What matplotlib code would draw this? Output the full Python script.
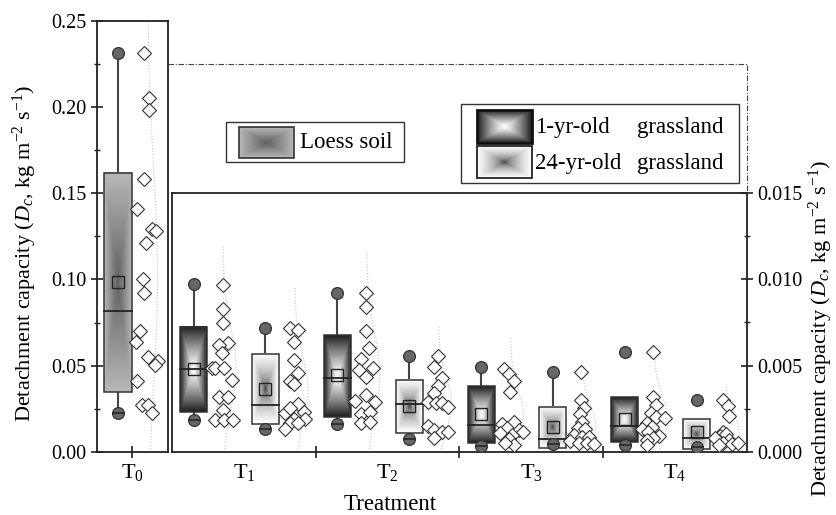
import numpy as np
import matplotlib
matplotlib.use('Agg')
import matplotlib.pyplot as plt
from matplotlib.patches import Rectangle

plt.rcParams['font.family'] = ['Liberation Serif', 'DejaVu Serif']
plt.rcParams['mathtext.fontset'] = 'custom'
plt.rcParams['mathtext.rm'] = 'Liberation Serif'
plt.rcParams['mathtext.it'] = 'Liberation Serif:italic'

# ---- data (kg m-2 s-1) ----
treatments = ['T$_{1}$', 'T$_{2}$', 'T$_{3}$', 'T$_{4}$']

# loess soil, T0 (left axis)
t0_q1, t0_med, t0_q3, t0_mean = 0.0345, 0.0816, 0.1616, 0.0986
t0_min, t0_max = 0.0228, 0.2313
t0_pts = [0.231, 0.205, 0.198, 0.158, 0.141, 0.129, 0.128, 0.121, 0.100, 0.092,
          0.070, 0.0635, 0.055, 0.0527, 0.0503, 0.041, 0.027, 0.027, 0.0224]

# 1-yr-old grassland (right axis)
yr1_q1 = [0.00230, 0.00204, 0.00054, 0.00060]
yr1_med = [0.00480, 0.00428, 0.00156, 0.00150]
yr1_q3 = [0.00725, 0.00677, 0.00382, 0.00316]
yr1_mean = [0.00478, 0.00444, 0.00220, 0.00190]
yr1_min = [0.00185, 0.00160, 0.00035, 0.00040]
yr1_max = [0.00971, 0.00918, 0.00490, 0.00580]
yr1_whi = [0.00971, 0.00918, 0.00490, 0.00316]
yr1_pts = [
    [0.00966, 0.00828, 0.00745, 0.00629, 0.00619, 0.00575, 0.00488, 0.00484,
     0.00484, 0.00417, 0.0032, 0.0032, 0.00243, 0.00185, 0.00185, 0.00185],
    [0.00918, 0.00841, 0.00700, 0.00600, 0.00536, 0.00484, 0.00475, 0.00432,
     0.00330, 0.00297, 0.00291, 0.00220, 0.00230, 0.00166, 0.00175],
    [0.00479, 0.00450, 0.00413, 0.00349, 0.00162, 0.00175, 0.00137, 0.00127,
     0.00117, 0.00108, 0.00098, 0.00073, 0.00040, 0.00050],
    [0.00577, 0.00320, 0.00272, 0.00228, 0.00201, 0.00195, 0.00166, 0.00146,
     0.00131, 0.00118, 0.00093, 0.00079, 0.00069, 0.00040],
]

# 24-yr-old grassland (right axis)
yr24_q1 = [0.00162, 0.00108, 0.00021, 0.00016]
yr24_med = [0.00272, 0.00278, 0.00075, 0.00080]
yr24_q3 = [0.00567, 0.00417, 0.00262, 0.00189]
yr24_mean = [0.00365, 0.00266, 0.00143, 0.00114]
yr24_min = [0.00131, 0.00075, 0.00044, 0.00030]
yr24_max = [0.00716, 0.00557, 0.00465, 0.00300]
yr24_whi = [0.00716, 0.00557, 0.00465, 0.00189]
yr24_pts = [
    [0.00716, 0.00706, 0.00638, 0.00532, 0.00455, 0.00413, 0.00394, 0.00276,
     0.00224, 0.00253, 0.00233, 0.00189, 0.00189, 0.00166, 0.00131, 0.00168],
    [0.00557, 0.00494, 0.00426, 0.00382, 0.00340, 0.00291, 0.00282, 0.00282,
     0.00262, 0.00150, 0.00127, 0.00117, 0.00117, 0.00079],
    [0.00465, 0.00301, 0.00253, 0.00220, 0.00175, 0.00137, 0.00131, 0.00098,
     0.00089, 0.00085, 0.00064, 0.00054, 0.00050, 0.00046],
    [0.00301, 0.00266, 0.00208, 0.00118, 0.00093, 0.00104, 0.00079, 0.00069,
     0.00054, 0.00046, 0.00050, 0.00040],
]

# horizontal jitter of the scatter points (pixels right of box centre)
t0_jit = [26, 31, 31, 26, 19, 34, 38, 28, 25, 26, 22, 18, 30, 40, 37, 19, 24, 30, 34]
yr1_jit = [
    [29, 29, 29, 34, 25, 28, 18, 21, 30, 38, 25, 34, 29, 21, 30, 39],
    [29, 29, 29, 31.5, 24, 36, 21.5, 29, 29, 18, 38, 24, 33, 24, 33],
    [23, 28, 33, 29, 21, 32.5, 26, 37.5, 42, 19, 31, 27.5, 32.5, 24],
    [28, 28, 31, 26, 31, 40, 22.5, 27.5, 17.5, 23.5, 34, 28, 22.5, 22.5],
]
yr24_jit = [
    [25, 33, 29, 29, 33, 24.5, 29, 33, 19.5, 25, 39, 39.5, 29, 25, 19.5, 33],
    [29, 25, 33, 29, 25, 19, 27, 33, 39, 19, 25, 33, 39, 25],
    [28, 28, 31, 27, 29, 25, 32.5, 21.5, 29, 36.5, 17.5, 26, 34, 41],
    [26, 31, 32, 26, 23, 29, 18.5, 32.5, 26.5, 35.5, 41.5, 22],
]

W, H = 837, 515
fig = plt.figure(figsize=(W / 100, H / 100), dpi=100)

def px_axes(x0, x1, ytop, ybot):
    return fig.add_axes([x0 / W, 1 - ybot / H, (x1 - x0) / W, (ybot - ytop) / H])

ax0 = px_axes(97, 168, 20.7, 452)
ax1 = px_axes(172, 747, 192.7, 452)
px0 = 71.0      # pixels per x unit, left axes
px1 = 575 / 4   # pixels per x unit, right axes

def grad_img(ax, x0, x1, y0, y1, inner, outer, gamma, z, ec='#333333', lw=1.1):
    u = np.linspace(-1, 1, 80)
    U, V = np.meshgrid(u, u)
    r = np.maximum(np.abs(U), np.abs(V))
    g = inner + (outer - inner) * r ** gamma
    ax.imshow(np.dstack([g, g, g]), extent=(x0, x1, y0, y1), aspect='auto',
              interpolation='bilinear', zorder=z, origin='lower')
    ax.add_patch(Rectangle((x0, y0), x1 - x0, y1 - y0, fill=False, ec=ec, lw=lw, zorder=z + 0.1))

def draw_group(ax, xc, bw, q1, med, q3, mean, lo, hi, whi, pts, jit, ppu, style, amp):
    inner, outer, gamma = style
    grad_img(ax, xc - bw / 2, xc + bw / 2, q1, q3, inner, outer, gamma, 3)
    ax.plot([xc - bw / 2, xc + bw / 2], [med, med], color='#222222', lw=1.3, zorder=3.5)
    if whi > q3:
        ax.plot([xc, xc], [q3, whi], color='#444444', lw=1.5, zorder=2)
    ax.plot([xc, xc], [lo, q1], color='#444444', lw=1.5, zorder=2)
    ax.plot([xc, xc], [lo, hi], ls='none', marker='o', ms=8.5, mfc='#666666',
            mec='#333333', mew=0.9, zorder=4)
    ax.plot([xc], [lo], marker='_', ms=8.5, mec='#222222', mew=1.1, zorder=4.5)
    ax.plot([xc], [mean], marker='s', ms=8, mfc='none', mec='#222222', mew=1.0, zorder=5)
    # scatter of raw points
    xs = xc + np.array(jit) / ppu
    ax.plot(xs, pts, ls='none', marker='D', ms=7, mfc='white', mec='#333333',
            mew=0.8, zorder=3.8)
    # fitted normal curve
    m, s = np.mean(pts), np.std(pts, ddof=1)
    yy = np.linspace(max(0, m - 3 * s), m + 3 * s, 200)
    xx = xc + (29.5 + amp * np.exp(-0.5 * ((yy - m) / s) ** 2)) / ppu
    ax.plot(xx, yy, color='#c4c4c4', lw=0.8, ls=':', zorder=1)

loess_style = (0.38, 0.72, 1.0)
yr1_style = (1.0, 0.12, 1.2)
yr24_style = (0.12, 1.0, 0.45)

draw_group(ax0, 0.296, 28 / px0, t0_q1, t0_med, t0_q3, t0_mean, t0_min, t0_max, t0_max,
           t0_pts, t0_jit, px0, loess_style, 10)

for i in range(4):
    draw_group(ax1, i + 0.15, 27 / px1, yr1_q1[i], yr1_med[i], yr1_q3[i], yr1_mean[i],
               yr1_min[i], yr1_max[i], yr1_whi[i], yr1_pts[i], yr1_jit[i], px1, yr1_style, 13)
    draw_group(ax1, i + 0.65, 27 / px1, yr24_q1[i], yr24_med[i], yr24_q3[i], yr24_mean[i],
               yr24_min[i], yr24_max[i], yr24_whi[i], yr24_pts[i], yr24_jit[i], px1, yr24_style, 13)

fs = 14.5
for ax in (ax0, ax1):
    for sp in ax.spines.values():
        sp.set_linewidth(1.3)
        sp.set_color('#222222')
    ax.tick_params(which='major', direction='inout', length=8, width=1.2, labelsize=fs, color='#222222')
    ax.tick_params(which='minor', direction='inout', length=5, width=1.0, color='#222222')

ax0.set_xlim(0, 1)
ax0.set_ylim(0, 0.25)
ax0.set_yticks(np.arange(0, 0.2501, 0.05))
ax0.set_yticks(np.arange(0.025, 0.25, 0.05), minor=True)
ax0.set_yticklabels(['%.2f' % v for v in np.arange(0, 0.2501, 0.05)])
ax0.set_xticks([0.5])
ax0.set_xticklabels(['T$_{0}$'])
ax0.tick_params(axis='x', pad=3, labelsize=16)

ax1.set_xlim(0, 4)
ax1.set_ylim(0, 0.015)
ax1.yaxis.tick_right()
ax1.set_yticks(np.arange(0, 0.01501, 0.005))
ax1.set_yticks(np.arange(0.0025, 0.015, 0.005), minor=True)
ax1.set_yticklabels(['%.3f' % v for v in np.arange(0, 0.01501, 0.005)])
ax1.set_xticks([1, 2, 3])
ax1.set_xticklabels([])
ax1.set_xticks([0.5, 1.5, 2.5, 3.5], minor=True)
ax1.set_xticklabels(treatments, minor=True)
ax1.tick_params(axis='x', which='minor', length=0, labelsize=16, pad=7)

ylab = 'Detachment capacity ($D_c$, kg m$^{-2}$ s$^{-1}$)'
fig.text(25 / W, 1 - 253 / H, ylab, rotation=90, ha='center', va='center', fontsize=16)
fig.text(821 / W, 1 - 328 / H, ylab, rotation=90, ha='center', va='center', fontsize=16)
fig.text(390 / W, 1 - 505 / H, 'Treatment', ha='center', va='center', fontsize=16.5)

# overlay in pixel coordinates for legends and connector lines
ov = fig.add_axes([0, 0, 1, 1])
ov.set_xlim(0, W)
ov.set_ylim(H, 0)
ov.axis('off')
ov.plot([168, 747, 747], [64, 64, 193], color='#444444', lw=0.8, dashes=(5, 1.5, 1, 1.5))

lfs = 16.5
ov.add_patch(Rectangle((226, 122), 178, 40, fill=False, ec='#333333', lw=1.0))
grad_img(ov, 239, 294, 127, 158, 0.38, 0.72, 1.0, 3, lw=1.2)
ov.text(300, 142, 'Loess soil', fontsize=lfs, va='center', ha='left')

ov.add_patch(Rectangle((461, 104), 278, 79, fill=False, ec='#333333', lw=1.0))
grad_img(ov, 477, 532, 110, 143, 1.0, 0.12, 1.2, 3, ec='#111111', lw=2.0)
grad_img(ov, 477, 532, 146, 178, 0.12, 1.0, 0.45, 3, ec='#111111', lw=1.2)
ov.text(535, 127, '1-yr-old', fontsize=lfs, va='center', ha='left')
ov.text(637, 127, 'grassland', fontsize=lfs, va='center', ha='left')
ov.text(535, 163, '24-yr-old', fontsize=lfs, va='center', ha='left')
ov.text(637, 163, 'grassland', fontsize=lfs, va='center', ha='left')
ov.set_xlim(0, W)
ov.set_ylim(H, 0)

fig.savefig('out.png', dpi=100)
